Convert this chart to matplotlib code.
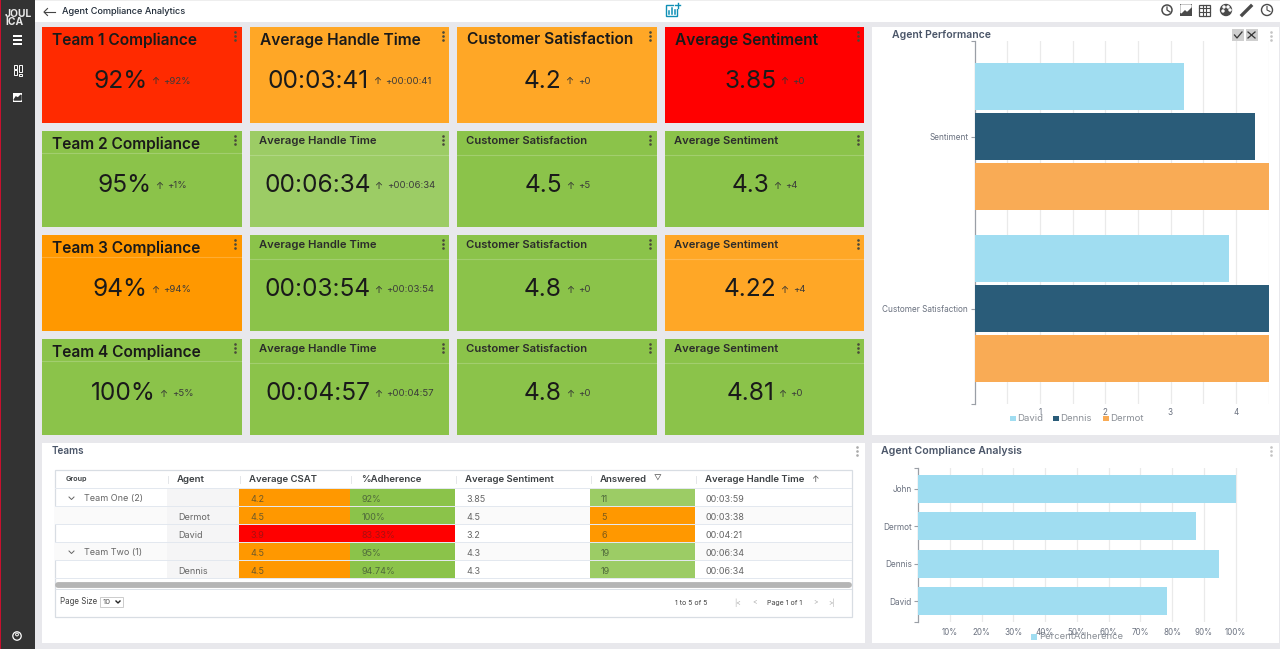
import matplotlib
matplotlib.use("Agg")
import matplotlib.pyplot as plt
from matplotlib.patches import Rectangle

plt.rcParams['font.family'] = ['Inter', 'DejaVu Sans']

W, H = 1280, 649

RED = "#ff2a00"
PURE_RED = "#ff0000"
AMBER = "#ffa726"
ORANGE = "#ff9800"
GREEN = "#8bc34a"
LIGHT_GREEN = "#9ccc65"

col_x = [42, 250, 457, 665]
col_w = [200, 199, 200, 199]
row_y = [27, 131, 235, 339]
row_h = 96

card_titles = [
    ["Team 1 Compliance", "Average Handle Time", "Customer Satisfaction", "Average Sentiment"],
    ["Team 2 Compliance", "Average Handle Time", "Customer Satisfaction", "Average Sentiment"],
    ["Team 3 Compliance", "Average Handle Time", "Customer Satisfaction", "Average Sentiment"],
    ["Team 4 Compliance", "Average Handle Time", "Customer Satisfaction", "Average Sentiment"],
]
card_values = [
    ["92%", "00:03:41", "4.2", "3.85"],
    ["95%", "00:06:34", "4.5", "4.3"],
    ["94%", "00:03:54", "4.8", "4.22"],
    ["100%", "00:04:57", "4.8", "4.81"],
]
card_deltas = [
    ["+92%", "+00:00:41", "+0", "+0"],
    ["+1%", "+00:06:34", "+5", "+4"],
    ["+94%", "+00:03:54", "+0", "+4"],
    ["+5%", "+00:04:57", "+0", "+0"],
]
card_colors = [
    [RED, AMBER, AMBER, PURE_RED],
    [GREEN, LIGHT_GREEN, GREEN, GREEN],
    [ORANGE, GREEN, GREEN, AMBER],
    [GREEN, GREEN, GREEN, GREEN],
]
# the big-title cards are the ones with a large heading
card_big = [
    [True, True, True, True],
    [True, False, False, False],
    [True, False, False, False],
    [True, False, False, False],
]

perf_groups = ["Customer Satisfaction", "Sentiment"]
perf_agents = ["David", "Dennis", "Dermot"]
perf_values = {
    "David": [3.9, 3.2],
    "Dennis": [4.5, 4.3],
    "Dermot": [4.5, 4.5],
}
perf_colors = {"David": "#a0ddf1", "Dennis": "#2a5c79", "Dermot": "#f9ab55"}
perf_ticks = [1, 2, 3, 4]
perf_grid = [0.5, 1, 1.5, 2, 2.5, 3, 3.5, 4, 4.5]

comp_agents = ["David", "Dennis", "Dermot", "John"]
comp_values = [78.5, 94.74, 87.5, 100]
comp_ticks = [10, 20, 30, 40, 50, 60, 70, 80, 90, 100]

table_headers = ["Group", "Agent", "Average CSAT", "%Adherence", "Average Sentiment",
                 "Answered", "Average Handle Time"]
table_group = ["Team One (2)", "", "", "Team Two (1)", ""]
table_agent = ["", "Dermot", "David", "", "Dennis"]
table_csat = ["4.2", "4.5", "3.9", "4.5", "4.5"]
table_adherence = ["92%", "100%", "83.33%", "95%", "94.74%"]
table_sentiment = ["3.85", "4.5", "3.2", "4.3", "4.3"]
table_answered = ["11", "5", "6", "19", "19"]
table_aht = ["00:03:59", "00:03:38", "00:04:21", "00:06:34", "00:06:34"]
csat_colors = [ORANGE, ORANGE, PURE_RED, ORANGE, ORANGE]
adherence_colors = [GREEN, GREEN, PURE_RED, GREEN, GREEN]
answered_colors = [LIGHT_GREEN, ORANGE, ORANGE, LIGHT_GREEN, LIGHT_GREEN]

fig = plt.figure(figsize=(W / 100, H / 100), dpi=100, facecolor="#e8e8ec")
page = fig.add_axes([0, 0, 1, 1])
page.set_xlim(0, W)
page.set_ylim(H, 0)
page.axis("off")
renderer = fig.canvas.get_renderer()


def box(ax, x, y, w, h, color, z=1, **kw):
    ax.add_patch(Rectangle((x, y), w, h, facecolor=color, edgecolor="none", zorder=z, **kw))


def dots(ax, x, y, color, z=4):
    ax.plot([x, x, x], [y - 4, y, y + 4], ls="none", marker="o", ms=1.9,
            color=color, mew=0, zorder=z)


def text_width(t):
    return t.get_window_extent(renderer).width


# top bar and side bar
box(page, 0, 0, W, 22, "white")
box(page, 0, 0, W, 1, "#eeeeee", z=2)
box(page, 0, 0, 35, H, "#333333", z=3)
box(page, 0, 0, 1.2, H, "#c8102e", z=4)
page.text(5, 14, "JOUL", color="#e8e8e8", fontsize=7.4, fontweight="bold", ha="left", va="center", zorder=5)
page.text(5, 22, "ICA", color="#e8e8e8", fontsize=7.4, fontweight="bold", ha="left", va="center", zorder=5)
for yy in [36, 40, 44]:
    box(page, 13, yy - 0.7, 9, 1.5, "white", z=5)
for xx, yy, hh in [(13.5, 65, 3.5), (18.5, 65, 7), (13.5, 70, 4.5), (18.5, 74, 1.5)]:
    page.add_patch(Rectangle((xx, yy), 3, hh, fill=False, edgecolor="white", lw=0.7, zorder=5))
box(page, 13, 93, 9, 9, "white", z=5)
page.fill([14, 16, 18, 21, 21, 14], [100, 97, 98, 95, 100, 100], color="#333333", zorder=6)
page.add_patch(plt.Circle((17, 636), 4.2, fill=False, edgecolor="white", lw=0.9, zorder=5))
page.add_patch(plt.Circle((17, 634.5), 1.4, fill=False, edgecolor="white", lw=0.7, zorder=5))

page.plot([44, 55], [12, 12], color="#444444", lw=0.8, zorder=5)
page.plot([47.5, 44, 47.5], [8.5, 12, 15.5], color="#444444", lw=0.8, zorder=5)
page.text(62, 12, "Agent Compliance Analytics", fontsize=6.6, fontweight="medium", color="#1f2a37",
          va="center", zorder=5)

# add-chart icon in the middle
page.add_patch(Rectangle((666, 5), 11, 11, fill=False, edgecolor="#0f8fb5", lw=1, zorder=5))
box(page, 674, 2, 7, 7, "white", z=5)
for xx, yt in [(669, 11), (672, 8), (675, 10)]:
    page.plot([xx, xx], [yt, 14], color="#0f8fb5", lw=1.1, zorder=6)
page.plot([675, 680], [5, 5], color="#0f8fb5", lw=1, zorder=6)
page.plot([677.5, 677.5], [2.5, 7.5], color="#0f8fb5", lw=1, zorder=6)

# right hand toolbar icons
icon_c = "#4a4a4a"
page.add_patch(plt.Circle((1167, 10), 5, fill=False, edgecolor=icon_c, lw=1.1, zorder=5))
page.plot([1167, 1167, 1170], [7, 10, 12], color=icon_c, lw=0.9, zorder=5)
box(page, 1180, 4, 12, 12, icon_c, z=5)
page.fill([1181, 1185, 1187, 1191, 1191, 1181], [13, 9, 11, 7, 5, 5], color="white", zorder=6)
page.add_patch(Rectangle((1199, 4.5), 11, 11, fill=False, edgecolor=icon_c, lw=0.9, zorder=5))
for k in [1, 2]:
    page.plot([1199 + k * 3.7] * 2, [4.5, 15.5], color=icon_c, lw=0.8, zorder=5)
    page.plot([1199, 1210], [4.5 + k * 3.7] * 2, color=icon_c, lw=0.8, zorder=5)
page.add_patch(plt.Circle((1226, 10), 5.5, color=icon_c, zorder=5))
for px, py in [(1224, 7), (1228, 7), (1230, 10), (1223, 11)]:
    page.add_patch(plt.Circle((px, py), 1, color="white", zorder=6))
page.plot([1242, 1251], [15, 6], color=icon_c, lw=2.4, zorder=5)
page.add_patch(plt.Circle((1267, 10), 5.5, fill=False, edgecolor=icon_c, lw=1, zorder=5))
page.plot([1267, 1267, 1270], [6.5, 10, 11.5], color=icon_c, lw=0.8, zorder=5)

# KPI cards
for r, y in enumerate(row_y):
    for c, x in enumerate(col_x):
        box(page, x, y, col_w[c], row_h, card_colors[r][c])
        big = card_big[r][c]
        if r > 0:
            line_y = y + (22 if big else 24)
            page.plot([x, x + col_w[c]], [line_y, line_y], color="white", alpha=0.2, lw=0.8, zorder=2)
        if big:
            page.text(x + 10, y + 13, card_titles[r][c], fontsize=11.2, fontweight="semibold",
                      color="#1a1a1a", va="center", zorder=3)
        else:
            page.text(x + 9, y + 9.5, card_titles[r][c], fontsize=8.1, fontweight="semibold",
                      color="#2b2b2b", va="center", zorder=3)
        dots(page, x + 193, y + 9, "#4a4a3a")

        # value, arrow and delta sit together centred in the card
        cy = y + 54 if r == 0 else y + 55
        val = page.text(0, cy, card_values[r][c], fontsize=17.6, color="#1a1a1a",
                        va="center", ha="left", zorder=3)
        delta = page.text(0, cy, card_deltas[r][c], fontsize=6.9, color="#3a3a3a",
                          va="center", ha="left", zorder=3)
        vw = text_width(val)
        start = x + col_w[c] / 2 - (vw + 16 + text_width(delta)) / 2
        val.set_x(start)
        delta.set_x(start + vw + 16)
        page.text(start + vw + 8, cy, "↑", fontsize=7, color="#333333", va="center", ha="center", zorder=3)

# white panels
box(page, 42, 443, 823, 200, "white")
box(page, 872, 27, 407, 408, "white")
box(page, 872, 443, 407, 200, "white")

# Teams table
page.text(52, 451, "Teams", fontsize=7.2, fontweight="semibold", color="#4a5568", va="center", zorder=3)
dots(page, 857, 451, "#aaaaaa")
tx0, tx1 = 55, 852
page.add_patch(Rectangle((tx0, 470), tx1 - tx0, 147, facecolor="white", edgecolor="#d8dde3", lw=0.9, zorder=2))
col_edges = [55, 167, 239, 350, 455, 590, 695, 852]
header_x = [66, 177, 249, 361, 465, 600, 705]
for i, label in enumerate(table_headers):
    page.text(header_x[i], 479.5, label, fontsize=5.2 if i == 0 else 6.9, fontweight="semibold",
              color="#3c4043", va="center", zorder=4)
for xx in col_edges[1:-1]:
    page.plot([xx + 0.5, xx + 0.5], [476, 483], color="#e4e6e9", lw=0.7, zorder=4)
page.text(657, 479, "▽", fontsize=5.5, color="#555555", ha="center", va="center", zorder=4)
page.text(815, 479, "↑", fontsize=6.5, color="#555555", ha="center", va="center", zorder=4)
box(page, tx0, 487.5, tx1 - tx0, 1.5, "#e3e8ef", z=3)

row_tops = [489, 507, 525, 543, 561]
row_hh = 17
for i, top in enumerate(row_tops):
    mid = top + row_hh / 2 + 1.5
    if i % 2 == 1:
        box(page, tx0, top, tx1 - tx0, row_hh, "#fafafa", z=2)
    box(page, 167, top, 72, row_hh, "#f5f5f6", z=2.5)
    box(page, tx0, top + row_hh, tx1 - tx0, 1, "#e3e8ef", z=3)
    box(page, 239, top, 111, row_hh, csat_colors[i], z=3)
    box(page, 350, top, 105, row_hh, adherence_colors[i], z=3)
    box(page, 590, top, 105, row_hh, answered_colors[i], z=3)
    if table_group[i]:
        page.plot([69, 71.5, 74], [497 + (top - 489), 499.5 + (top - 489), 497 + (top - 489)],
                  color="#666666", lw=0.7, zorder=4)
        page.text(84, mid, table_group[i], fontsize=6.5, color="#666666", va="center", zorder=4)
    page.text(178, mid, table_agent[i], fontsize=6.5, color="#666666", va="center", zorder=4)
    soft = "#a81010" if csat_colors[i] == PURE_RED else "#6e5a2a"
    page.text(250, mid, table_csat[i], fontsize=6.5, color=soft, va="center", zorder=4)
    soft = "#a81010" if adherence_colors[i] == PURE_RED else "#4f6a3b"
    page.text(362, mid, table_adherence[i], fontsize=6.5, color=soft, va="center", zorder=4)
    page.text(466, mid, table_sentiment[i], fontsize=6.5, color="#666666", va="center", zorder=4)
    soft = "#7a5a1a" if answered_colors[i] == ORANGE else "#4f6a3b"
    page.text(601, mid, table_answered[i], fontsize=6.5, color=soft, va="center", zorder=4)
    page.text(706, mid, table_aht[i], fontsize=6.5, color="#666666", va="center", zorder=4)

page.plot([58, 849], [585, 585], color="#b5b5b5", lw=4.2, solid_capstyle="round", zorder=4)
box(page, tx0, 589, tx1 - tx0, 0.8, "#dde2e8", z=4)
page.text(60, 602, "Page Size", fontsize=5.7, color="#444444", va="center", zorder=4)
page.add_patch(Rectangle((100, 597), 23, 10, facecolor="white", edgecolor="#cccccc", lw=0.7, zorder=4))
page.text(103, 602, "10", fontsize=5.6, color="#555555", va="center", zorder=5)
page.plot([116, 118, 120], [601, 603, 601], color="#222222", lw=1, zorder=5)
page.text(675, 603, "1 to 5 of 5", fontsize=5, color="#444444", va="center", zorder=4)
page.text(767, 603, "Page 1 of 1", fontsize=5, color="#444444", va="center", zorder=4, ha="left")
for xx, s in [(738, "|<"), (755, "<"), (815, ">"), (832, ">|")]:
    page.text(xx, 602.5, s, fontsize=5, color="#aaaaaa", ha="center", va="center", zorder=4)

# Agent Performance panel text and buttons
page.text(892, 34.5, "Agent Performance", fontsize=7.5, fontweight="semibold", color="#4a5568", va="center", zorder=3)
box(page, 1232, 29, 12, 12, "#cfcfcf", z=3)
box(page, 1245.5, 29, 12, 12, "#cfcfcf", z=3)
page.plot([1234.5, 1237, 1242], [35, 38, 32], color="#333333", lw=0.9, zorder=4)
page.plot([1248, 1255], [32, 38], color="#333333", lw=0.9, zorder=4)
page.plot([1248, 1255], [38, 32], color="#333333", lw=0.9, zorder=4)
dots(page, 1271, 36, "#c4c4c4")


def px_axes(left, top, right, bottom):
    ax = fig.add_axes([left / W, 1 - bottom / H, (right - left) / W, (bottom - top) / H], zorder=5)
    ax.patch.set_alpha(0)
    for side in ["top", "right", "bottom"]:
        ax.spines[side].set_visible(False)
    ax.spines["left"].set_color("#9a9fa6")
    ax.spines["left"].set_linewidth(0.9)
    ax.set_axisbelow(True)
    return ax


# grouped horizontal bars, px scale: 65.3 per unit from x=974.5, 172 per group
perf_ax = px_axes(974.5, 41, 1268.5, 404)
perf_ax.set_xlim(0, 4.5)
perf_ax.set_ylim(0.5 - 363 / 344, 0.5 + 363 / 344)
for k, agent in enumerate(perf_agents):
    ypos = [g + (1 - k) * 0.291 for g in range(len(perf_groups))]
    perf_ax.barh(ypos, perf_values[agent], height=0.273, color=perf_colors[agent], label=agent, zorder=3)
perf_ax.set_yticks(range(len(perf_groups)), perf_groups, fontsize=5.9, color="#6b7280")
perf_ax.set_yticks(perf_ax.get_ylim(), minor=True)
perf_ax.set_xticks(perf_ticks, [str(t) for t in perf_ticks], fontsize=5.8, color="#6b7280")
perf_ax.tick_params(axis="x", length=0, pad=3)
perf_ax.tick_params(axis="y", which="both", length=3, color="#9a9fa6", width=0.8, pad=1.5)
for g in perf_grid:
    perf_ax.axvline(g, color="#eaeaea", lw=0.9, zorder=1)

# percent bars, px scale: 3.175 per percent from x=918
comp_ax = px_axes(918, 468, 1268, 622)
comp_ax.set_xlim(0, 350 / 3.175)
comp_ax.set_ylim(1.5 - 154 / 74.8, 1.5 + 154 / 74.8)
comp_ax.barh(comp_agents, comp_values, height=0.75, color="#a0ddf1", label="PercentAdherence", zorder=3)
comp_ax.set_yticks(comp_ax.get_ylim(), minor=True)
comp_ax.set_xticks(comp_ticks, [f"{t}%" for t in comp_ticks], fontsize=5.8, color="#6b7280")
comp_ax.tick_params(axis="x", length=0, pad=4)
comp_ax.tick_params(axis="y", which="both", length=3, color="#9a9fa6", width=0.8, labelsize=5.9,
                    labelcolor="#6b7280", pad=1.5)
for t in comp_ticks:
    comp_ax.axvline(t, color="#eaeaea", lw=0.9, zorder=1)

# legends, placed by hand like the dashboard does (they overlap the tick labels)
legend_items = [(1010, "David"), (1053, "Dennis"), (1103, "Dermot")]
for (xx, name) in legend_items:
    box(page, xx, 415.5, 5.5, 5.5, perf_colors[name], z=6)
    page.text(xx + 7.5, 418.5, name, fontsize=6.9, color="#8a8f96", va="center", zorder=6)
box(page, 1031, 634, 5.5, 5.5, "#a0ddf1", z=6)
page.text(1039, 636.8, "PercentAdherence", fontsize=6.8, color="#8a8f96", va="center", zorder=6)
page.text(881, 451, "Agent Compliance Analysis", fontsize=7.6, fontweight="semibold", color="#4a5568",
          va="center", zorder=3)
dots(page, 1271, 451, "#c4c4c4")

fig.savefig("out.png", dpi=100, facecolor=fig.get_facecolor())
